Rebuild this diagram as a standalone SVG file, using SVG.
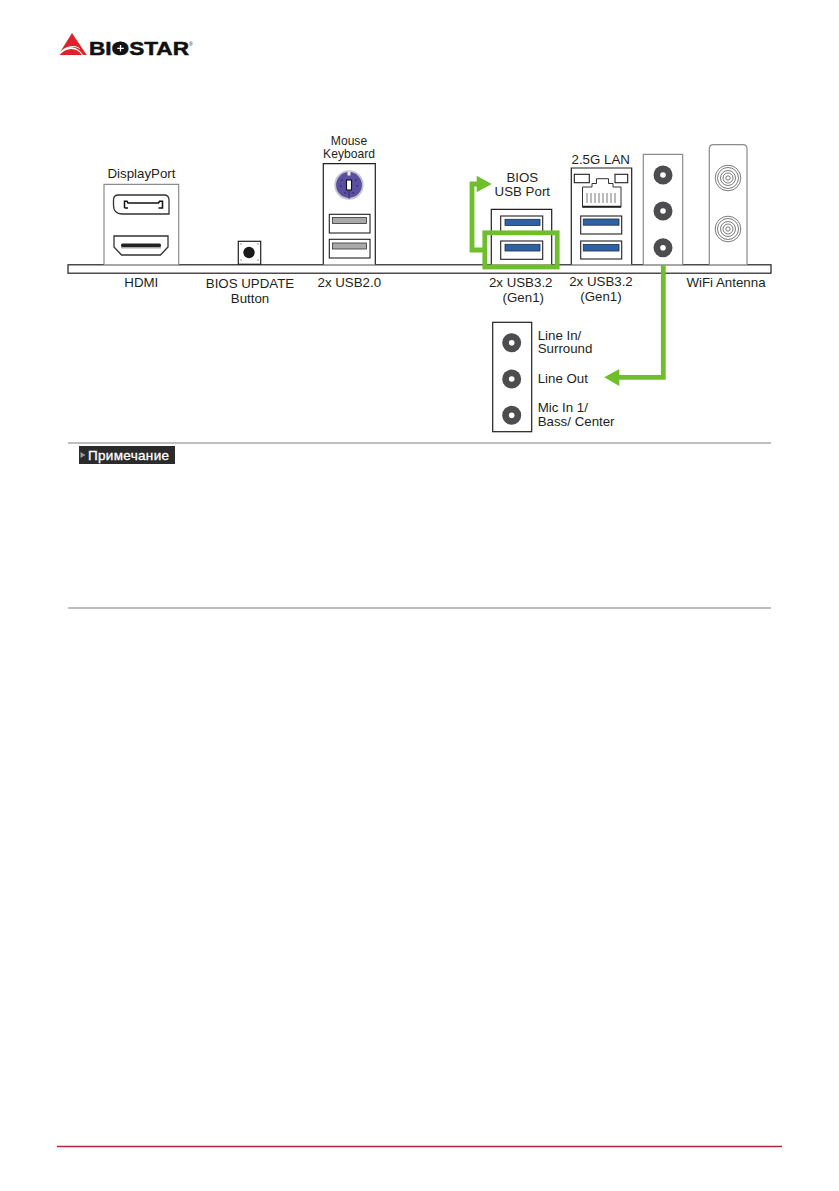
<svg xmlns="http://www.w3.org/2000/svg" width="839" height="1191" viewBox="0 0 839 1191">
<style>
text{font-family:"Liberation Sans",Arial,sans-serif;fill:#231f20;font-size:13.3px}
.m{text-anchor:middle}
.box{fill:#fff;stroke:#231f20;stroke-width:1.2}
.gbox{fill:#fff;stroke:#8c8c8c;stroke-width:1.2}
.port{fill:#fff;stroke:#231f20;stroke-width:1.1}
.blue{fill:#2f62a3;stroke:#1c2f4d;stroke-width:.8}
.gray{fill:#a9a9a9;stroke:#333;stroke-width:.8}
.jack{fill:#4d4d4f}
.hole{fill:#fff}
.ring{fill:none;stroke:#444;stroke-width:.7}
.g{fill:none;stroke:#6fbe2c;stroke-width:4.8}
.ga{fill:#6fbe2c}
.rule{stroke:#aaa;stroke-width:1.6}
</style>
<rect width="839" height="1191" fill="#fff"/>
<g id="logo">
<path d="M72 33L86.700 55L83 55C78 47 68 44 61 51L58.300 55Z" fill="#d9252a"/>
<path d="M59.500 55C66 47 77 47 82 55Z" fill="#d9252a"/>
<path d="M61.500 52C67 45.500 76 45 80 49" fill="none" stroke="#fff" stroke-width="1"/>
<text x="89" y="55" font-weight="bold" textLength="100" lengthAdjust="spacingAndGlyphs" style="font-size:18.5px;fill:#111;stroke:#111;stroke-width:.5">BIOSTAR</text>
<circle cx="120.500" cy="48.300" r="6.800" fill="#111"/>
<path d="M120.500 45v6.600M117.200 48.300h6.600" stroke="#fff" stroke-width="1.300"/>
<text x="189" y="46" style="font-size:5px;fill:#111">®</text>
</g>
<g id="bar"><rect x="68" y="264.800" width="703" height="8.400" fill="#fff" stroke="#231f20" stroke-width="1.200"/></g>
<g id="displayport">
<path class="box" style="stroke:#8c8c8c" d="M104 264.500V184.300H178.700V264.500"/>
<path d="M113.500 200Q113.500 195 118.500 195H164Q169 195 169 200V214H122Q113.500 214 113.500 205Z" fill="#fff" stroke="#333" stroke-width="1.300"/>
<path d="M124.500 208V201.300H127L128 203H158.500L159.500 201.300H162.500V208H158.500" fill="none" stroke="#111" stroke-width="1.500"/>
<path d="M124.500 208H128" stroke="#111" stroke-width="1.500"/>
<path d="M114 236H168V247L160.500 255H121.500L114 247Z" fill="#fff" stroke="#333" stroke-width="1.300"/>
<rect x="121" y="243.500" width="40" height="3.500" rx="1.500" fill="#222"/>
<rect x="121" y="247" width="40" height="1.500" fill="#aaa"/>
<text class="m" x="141.500" y="177.700">DisplayPort</text>
<text class="m" x="141.300" y="287.300">HDMI</text>
</g>
<g id="bios-update">
<rect class="box" x="238.300" y="241.300" width="22.400" height="23"/>
<circle cx="249" cy="252.500" r="5.700" fill="#1a1a1a"/>
<g fill="#333"><rect x="240.500" y="243.500" width="1" height="1"/><rect x="257.500" y="243.500" width="1" height="1"/><rect x="240.500" y="259.500" width="1" height="1"/><rect x="257.500" y="259.500" width="1" height="1"/></g>
<text class="m" x="250" y="287.500">BIOS UPDATE</text>
<text class="m" x="250" y="303">Button</text>
</g>
<g id="mouse-keyboard">
<path class="box" d="M323.300 264.500V163.700H375.300V264.500"/>
<circle cx="349" cy="185" r="13.800" fill="#5b4f9f" stroke="#c4c4d2" stroke-width="1.800"/>
<path d="M349 171.500v4" stroke="#eee" stroke-width="3"/>
<path d="M349 191v8" stroke="#2d2760" stroke-width=".8"/>
<rect x="346.500" y="180" width="5" height="10" fill="#fff" stroke="#111" stroke-width="1.100"/>
<g fill="#26215a"><circle cx="342" cy="180" r=".8"/><circle cx="356" cy="180" r=".8"/><circle cx="341" cy="186" r=".8"/><circle cx="357" cy="186" r=".8"/><circle cx="345" cy="193" r=".8"/><circle cx="353" cy="193" r=".8"/></g>
<rect class="port" x="329.300" y="214.300" width="40.700" height="18.700"/>
<rect class="gray" x="332.500" y="217.500" width="34" height="6"/>
<rect class="port" x="329.300" y="239.300" width="40.700" height="18.700"/>
<rect class="gray" x="332.500" y="243" width="34" height="6"/>
<text class="m" x="349" y="145" style="font-size:12.100px">Mouse</text>
<text class="m" x="349" y="158.300" style="font-size:12.100px">Keyboard</text>
<text class="m" x="349.300" y="287.300">2x USB2.0</text>
</g>
<g id="bios-usb">
<path class="box" d="M491.300 264.500V209.300H551.700V264.500"/>
<rect class="port" x="500.700" y="216" width="42" height="16.500"/>
<rect class="blue" x="505" y="219.300" width="35" height="6.200"/>
<rect class="port" x="500.700" y="241" width="42" height="18.300"/>
<rect class="blue" x="505" y="244.300" width="35" height="6.700"/>
<text class="m" x="522.300" y="181.700">BIOS</text>
<text class="m" x="522.300" y="195.700">USB Port</text>
<text class="m" x="520.700" y="286.700">2x USB3.2</text>
<text class="m" x="523.300" y="301.700">(Gen1)</text>
</g>
<g id="lan">
<path class="box" d="M571.300 264.500V168H631.700V264.500"/>
<rect class="port" x="574.300" y="174.300" width="15" height="8.400"/>
<rect class="port" x="615" y="174.300" width="12.700" height="8.400"/>
<path d="M582.500 207.300V187H592V183.500H596.500V178.700H608.500V183.500H613V187H621V207.300Z" fill="#fff" stroke="#333" stroke-width="1"/>
<path d="M582.500 206.500H621" stroke="#222" stroke-width="1.400"/>
<path d="M587 193v10M591 193v10M595 193v10M599 193v10M603 193v10M607 193v10M611 193v10M615 193v10" stroke="#555" stroke-width=".8"/>
<rect class="port" x="580.700" y="216" width="41" height="18"/>
<rect class="blue" x="583.300" y="219" width="35.700" height="6.200"/>
<rect class="port" x="580.700" y="241" width="41" height="18"/>
<rect class="blue" x="583.300" y="244.500" width="35.700" height="6.500"/>
<text class="m" x="600.700" y="164.300">2.5G LAN</text>
<text class="m" x="601" y="286">2x USB3.2</text>
<text class="m" x="601" y="300.700">(Gen1)</text>
</g>
<g id="audio-panel">
<path class="gbox" d="M643.300 264.500V154.300H682.700V264.500"/>
<circle class="jack" cx="663" cy="175" r="9.500"/><circle class="hole" cx="663" cy="175" r="2.800"/>
<circle class="jack" cx="663" cy="211" r="9.500"/><circle class="hole" cx="663" cy="211" r="2.800"/>
<circle class="jack" cx="663" cy="247.700" r="9.500"/><circle class="hole" cx="663" cy="247.700" r="2.800"/>
</g>
<g id="wifi">
<path class="gbox" d="M709.300 264.500V149Q709.300 144.700 713.500 144.700H742.800Q747 144.700 747 149V264.500"/>
<g class="ring"><circle cx="728" cy="178" r="12.800"/><circle cx="728" cy="178" r="10.500"/><circle cx="728" cy="178" r="7.500"/><circle cx="728" cy="178" r="5"/><circle cx="728" cy="178" r="2.200"/></g>
<g class="ring"><circle cx="728" cy="229" r="12.800"/><circle cx="728" cy="229" r="10.500"/><circle cx="728" cy="229" r="7.500"/><circle cx="728" cy="229" r="5"/><circle cx="728" cy="229" r="2.200"/></g>
<text class="m" x="726" y="286.700">WiFi Antenna</text>
</g>
<g id="audio-detail">
<rect class="box" x="492.700" y="322.300" width="39" height="109.400"/>
<circle class="jack" cx="511.700" cy="342.700" r="9.500"/><circle class="hole" cx="511.700" cy="342.700" r="2.800"/>
<circle class="jack" cx="511.700" cy="379" r="9.500"/><circle class="hole" cx="511.700" cy="379" r="2.800"/>
<circle class="jack" cx="511.700" cy="415.300" r="9.500"/><circle class="hole" cx="511.700" cy="415.300" r="2.800"/>
<text x="537.700" y="340">Line In/</text>
<text x="537.700" y="353.300">Surround</text>
<text x="537.700" y="382.700">Line Out</text>
<text x="537.700" y="412">Mic In 1/</text>
<text x="537.700" y="425.700">Bass/ Center</text>
</g>
<g id="connectors">
<rect class="g" x="484.800" y="232.800" width="72.400" height="34.200"/>
<path class="g" d="M484 250H472V184H478"/>
<path class="ga" d="M491.700 184L476.700 175.700V192.300Z"/>
<path class="g" d="M663.300 265V377.300H618"/>
<path class="ga" d="M604.300 377.300L619.300 369V386Z"/>
</g>
<g id="note">
<line class="rule" x1="68" y1="443" x2="771" y2="443"/>
<line class="rule" x1="68" y1="608" x2="771" y2="608"/>
<rect x="79" y="446" width="96" height="18" fill="#2b2b2b"/>
<path d="M80.500 452L85.500 455L80.500 458Z" fill="#9a9a9a"/>
<text x="88" y="459.500" textLength="81" lengthAdjust="spacing" style="font-size:13.500px;fill:#fff;stroke:#fff;stroke-width:.3">Примечание</text>
</g>
<g id="footer"><line x1="57" y1="1146.500" x2="782" y2="1146.500" stroke="#b5243a" stroke-width="1.300"/></g>
</svg>
